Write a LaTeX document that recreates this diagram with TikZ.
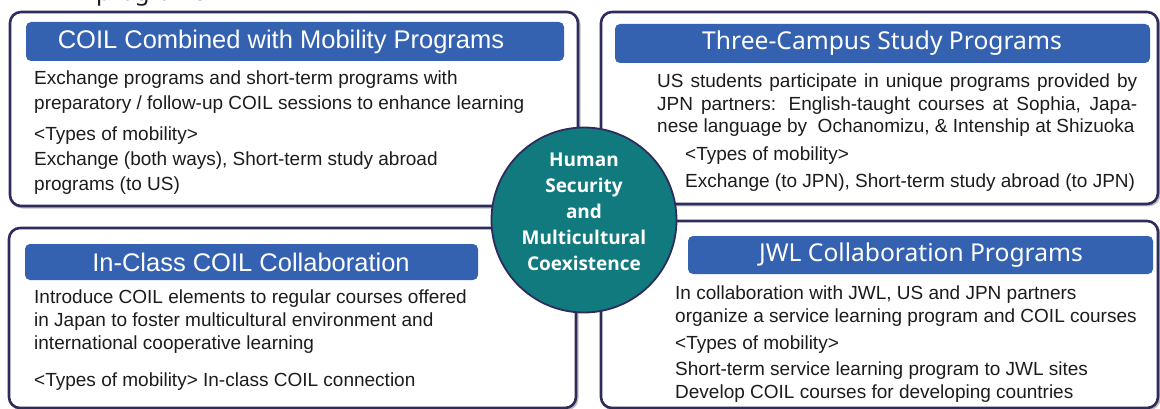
\documentclass[tikz,border=0pt]{standalone}
\usepackage{fontspec}
\setmainfont{Liberation Sans}
\newfontfamily\ttlfont{Noto Sans}
\newfontfamily\hubfont{Open Sans}
\definecolor{navy}{RGB}{45,44,92}
\definecolor{barblue}{RGB}{52,98,176}
\definecolor{tealc}{RGB}{17,122,127}
\definecolor{txt}{RGB}{28,28,28}
\tikzset{
  frame/.style={draw=navy, line width=2.6pt, rounded corners=11pt, fill=white},
  fshadow/.style={draw=black!25, line width=2pt, rounded corners=11pt},
  bar/.style={fill=barblue, rounded corners=5pt},
  ttl/.style={text=white, font=\fontsize{25.5}{28}\selectfont, inner sep=0pt},
  ttlm/.style={text=white, font=\ttlfont\fontsize{24.6}{28}\selectfont, inner sep=0pt},
  body/.style={text=txt, font=\fontsize{19}{23}\selectfont, anchor=base west, inner sep=0pt},
  hub/.style={circle, fill=tealc, draw=navy, line width=1.8pt, minimum size=185pt, inner sep=0pt},
  hubtxt/.style={text=white, font=\hubfont\bfseries\fontsize{19}{26}\selectfont, align=center, inner sep=0pt}
}
\begin{document}
\begin{tikzpicture}[x=1pt,y=-1pt]
\useasboundingbox (0,0) rectangle (1160,409);
\node[anchor=base west, font=\ttlfont\fontsize{24}{28}\selectfont, text=txt, inner sep=0pt] (cut) at (96,0.5) {programs};
% frames
\draw[fshadow] (11.5,13.5) rectangle (579.5,207.5);
\draw[frame] (10,12) rectangle (578,206);
\draw[fshadow] (602.5,13.5) rectangle (1159.5,205.5);
\draw[frame] (601,12) rectangle (1158,204);
\draw[fshadow] (10.5,229.5) rectangle (577.5,409.5);
\draw[frame] (9,228) rectangle (576,408);
\draw[fshadow] (602.5,222.5) rectangle (1159.5,409.5);
\draw[frame] (601,221) rectangle (1158,408);
% title bars
\fill[bar] (26,22) rectangle (564,61);
\node[ttl] (t1) at (281,41.5) {COIL Combined with Mobility Programs};
\fill[bar] (615,24) rectangle (1150,63);
\node[ttlm] (t2) at (882,43.5) {Three-Campus Study Programs};
\fill[bar] (25,244) rectangle (478,280);
\node[ttl] (t3) at (251,262) {In-Class COIL Collaboration};
\fill[bar] (688,236) rectangle (1153,274);
\node[ttlm] (t4) at (921,255) {JWL Collaboration Programs};
% top-left body
\node[body] (a1) at (34,85) {Exchange programs and short-term programs with};
\node[body] (a2) at (34,110) {preparatory / follow-up COIL sessions to enhance learning};
\node[body] (a3) at (34,141) {<Types of mobility>};
\node[body] (a4) at (34,166) {Exchange (both ways), Short-term study abroad};
\node[body] (a5) at (34,190) {programs (to US)};
% top-right body
\node[body] (b1) at (657,88) {\makebox[480pt][s]{US students participate in unique programs provided by}};
\node[body] (b2) at (657,111) {\makebox[480pt][s]{JPN partners: English-taught courses at Sophia, Japa-}};
\node[body] (b3) at (657,133) {nese language by\ \ Ochanomizu, \& Intenship at Shizuoka};
\node[body] (b4) at (685,161) {<Types of mobility>};
\node[body] (b5) at (685,188) {Exchange (to JPN), Short-term study abroad (to JPN)};
% bottom-left body
\node[body] (c1) at (34,303) {Introduce COIL elements to regular courses offered};
\node[body] (c2) at (34,326) {in Japan to foster multicultural environment and};
\node[body] (c3) at (34,349) {international cooperative learning};
\node[body] (c4) at (34,386) {<Types of mobility> In-class COIL connection};
% bottom-right body
\node[body] (d1) at (675,299) {In collaboration with JWL, US and JPN partners};
\node[body] (d2) at (675,322) {organize a service learning program and COIL courses};
\node[body] (d3) at (675,349) {<Types of mobility>};
\node[body] (d4) at (675,375) {Short-term service learning program to JWL sites};
\node[body] (d5) at (675,398) {Develop COIL courses for developing countries};
% hub
\node[hub] (hub) at (584,220) {};
\node[hubtxt] (hubt) at (584,212) {Human\\Security\\and\\Multicultural\\Coexistence};
\end{tikzpicture}
\end{document}
